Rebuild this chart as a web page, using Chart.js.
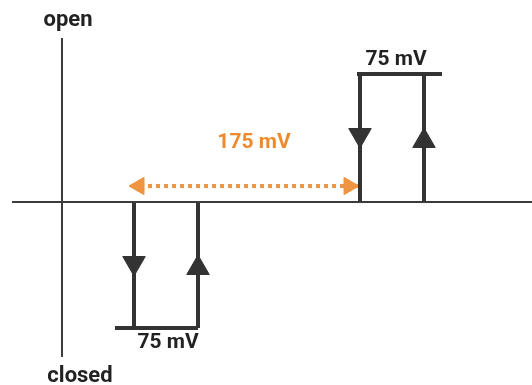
<!DOCTYPE html>
<html lang="en">
<head>
    <meta charset="UTF-8">
    <title>Hysteresis</title>
    <script src="https://cdn.jsdelivr.net/npm/chart.js"></script>
    <style>
        body { margin: 0; background: #fff; }
        #wrap { width: 532px; height: 385px; }
    </style>
</head>
<body>
    <div id="wrap"><canvas id="hystChart" width="532" height="385"></canvas></div>

    <script>
        // axes (origin = crossing point)
        const axisX = [-50, 470];
        const axisY = [164, -155];

        // upper loop (opening), lower loop (closing)
        const upperLoopX = [298, 362];
        const upperLoopTop = 128;
        const upperBar = [295, 380];
        const lowerLoopX = [72, 136];
        const lowerLoopBottom = -126;
        const lowerBar = [53, 136];

        // direction arrows on the loop legs
        const arrowsDown = [{ x: 298, y: 67 }, { x: 72, y: -61 }];
        const arrowsUp = [{ x: 362, y: 61 }, { x: 136, y: -66 }];

        // 175 mV gap arrow
        const gapY = 16;
        const gapLine = [70, 296];
        const gapHeads = [77, 287];

        const labels = [
            { text: 'open', x: 6, y: 182, color: '#222', size: 22 },
            { text: 'closed', x: 18, y: -174, color: '#222', size: 22 },
            { text: '75 mV', x: 334, y: 142, color: '#222', size: 21 },
            { text: '75 mV', x: 106, y: -141, color: '#222', size: 21 },
            { text: '175 mV', x: 192, y: 59, color: '#EE8A2E', size: 21 }
        ];

        const dark = '#333333';
        const orange = '#EF9440';

        function seg(xs, ys) {
            return xs.map((x, i) => ({ x: x, y: ys[i] }));
        }
        function line(data, color, width, extra) {
            return Object.assign({
                type: 'line', data: data, borderColor: color, borderWidth: width,
                pointRadius: 0, fill: false, tension: 0, borderCapStyle: 'butt'
            }, extra || {});
        }

        const datasets = [
            line(seg(axisX, [0, 0]), '#3c3c3c', 2),
            line(seg([0, 0], axisY), '#3c3c3c', 2),
            line(seg(upperBar, [upperLoopTop, upperLoopTop]), dark, 4),
            line(seg([upperLoopX[0], upperLoopX[0]], [0, upperLoopTop]), dark, 4),
            line(seg([upperLoopX[1], upperLoopX[1]], [-1, upperLoopTop]), dark, 4),
            line(seg(lowerBar, [lowerLoopBottom, lowerLoopBottom]), dark, 4),
            line(seg([lowerLoopX[0], lowerLoopX[0]], [0, lowerLoopBottom]), dark, 4),
            line(seg([lowerLoopX[1], lowerLoopX[1]], [0, lowerLoopBottom]), dark, 4),
            line(seg(gapLine, [gapY, gapY]), orange, 4, { borderDash: [4, 4] }),
            {
                type: 'scatter', data: arrowsDown, pointStyle: 'triangle', rotation: 180,
                pointRadius: 13, backgroundColor: dark, borderColor: dark, borderWidth: 1
            },
            {
                type: 'scatter', data: arrowsUp, pointStyle: 'triangle', rotation: 0,
                pointRadius: 13, backgroundColor: dark, borderColor: dark, borderWidth: 1
            },
            {
                type: 'scatter', data: [{ x: gapHeads[0], y: gapY }], pointStyle: 'triangle', rotation: 270,
                pointRadius: 10, backgroundColor: orange, borderColor: orange, borderWidth: 1
            },
            {
                type: 'scatter', data: [{ x: gapHeads[1], y: gapY }], pointStyle: 'triangle', rotation: 90,
                pointRadius: 10, backgroundColor: orange, borderColor: orange, borderWidth: 1
            }
        ];

        const textPlugin = {
            id: 'texts',
            afterDatasetsDraw(chart) {
                const ctx = chart.ctx;
                const xs = chart.scales.x, ys = chart.scales.y;
                ctx.save();
                ctx.textAlign = 'center';
                ctx.textBaseline = 'middle';
                labels.forEach(l => {
                    ctx.font = 'bold ' + l.size + 'px Roboto, "Liberation Sans", sans-serif';
                    ctx.fillStyle = l.color;
                    ctx.fillText(l.text, xs.getPixelForValue(l.x), ys.getPixelForValue(l.y));
                });
                ctx.restore();
            }
        };

        new Chart(document.getElementById('hystChart'), {
            type: 'scatter',
            data: { datasets: datasets },
            options: {
                responsive: false,
                animation: false,
                layout: { padding: 0, autoPadding: false },
                plugins: { legend: { display: false }, tooltip: { enabled: false } },
                scales: {
                    x: { type: 'linear', min: -62, max: 470, display: false },
                    y: { type: 'linear', min: -183, max: 202, display: false }
                }
            },
            plugins: [textPlugin]
        });
    </script>
</body>
</html>
